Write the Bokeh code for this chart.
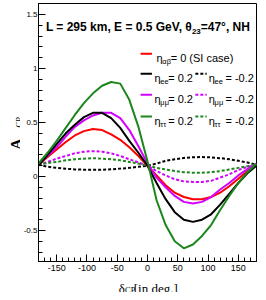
import math
from bokeh.plotting import figure
from bokeh.layouts import row, column
from bokeh.models import Range1d, FixedTicker, Label
from bokeh.core.properties import value
from bokeh.embed import file_html
from bokeh.resources import INLINE

# ---------------- data ----------------
delta_cp = [-180, -165, -150, -135, -120, -105, -90, -75, -60, -45, -30, -15,
            0, 15, 30, 45, 60, 75, 90, 105, 120, 135, 150, 165, 180]

acp_si = [0.11, 0.18, 0.25, 0.32, 0.38, 0.42, 0.44, 0.43, 0.39, 0.34, 0.27, 0.19,
          0.10, 0.01, -0.08, -0.15, -0.19, -0.21, -0.21, -0.19, -0.15, -0.09, -0.02, 0.05, 0.11]
acp_ee_p = [0.10, 0.20, 0.30, 0.40, 0.48, 0.55, 0.59, 0.59, 0.54, 0.45, 0.33, 0.22,
            0.10, -0.06, -0.21, -0.33, -0.40, -0.42, -0.40, -0.35, -0.26, -0.16, -0.06, 0.03, 0.10]
acp_ee_m = [0.11, 0.09, 0.08, 0.072, 0.066, 0.063, 0.062, 0.063, 0.067, 0.073, 0.08, 0.09,
            0.10, 0.12, 0.145, 0.16, 0.172, 0.178, 0.18, 0.177, 0.17, 0.16, 0.145, 0.13, 0.11]
acp_mm_p = [0.115, 0.19, 0.27, 0.37, 0.46, 0.52, 0.565, 0.59, 0.59, 0.54, 0.43, 0.28,
            0.12, -0.01, -0.10, -0.18, -0.235, -0.25, -0.235, -0.19, -0.12, -0.06, 0.01, 0.07, 0.115]
acp_mm_m = [0.11, 0.135, 0.165, 0.19, 0.215, 0.23, 0.235, 0.23, 0.215, 0.19, 0.16, 0.13,
            0.10, 0.05, 0.01, -0.025, -0.045, -0.05, -0.05, -0.04, -0.01, 0.02, 0.06, 0.09, 0.11]
acp_tt_p = [0.12, 0.22, 0.33, 0.45, 0.57, 0.68, 0.77, 0.84, 0.875, 0.86, 0.71, 0.46,
            0.14, -0.22, -0.45, -0.60, -0.665, -0.63, -0.55, -0.45, -0.31, -0.18, -0.06, 0.04, 0.12]
acp_tt_m = [0.11, 0.125, 0.135, 0.15, 0.16, 0.165, 0.17, 0.165, 0.16, 0.15, 0.135, 0.12,
            0.10, 0.08, 0.065, 0.05, 0.04, 0.035, 0.035, 0.04, 0.05, 0.065, 0.08, 0.095, 0.11]

x_ticks = [-150, -100, -50, 0, 50, 100, 150]
x_tick_labels = ["-150", "-100", "-50", "0", "50", "100", "150"]
y_ticks = [-0.5, 0, 0.5, 1, 1.5]
y_tick_labels = ["-0.5", "0", "0.5", "1", "1.5"]

# ---------------- layout (canvas pixels) ----------------
X0, X1 = -180, 180
Y0, Y1 = -0.787, 1.602
YW = 20                 # width of the left strip holding the y title
MW, MH = 238, 275       # main figure
XH = 17                 # height of the strip holding the x title
ML, MR, MT, MB = 15, 2, 3, 14
FL, FR = YW + ML, YW + MW - MR        # frame left/right in canvas px
FT, FB = MT, MH - MB                  # frame top/bottom in canvas px

def DX(cx):  # canvas px -> data x
    return X0 + (cx - FL) / (FR - FL) * (X1 - X0)

def DY(cy):  # canvas px -> data y
    return Y1 - (cy - FT) / (FB - FT) * (Y1 - Y0)

SANS = "Liberation Sans"
SERIF = "Liberation Serif"

p = figure(width=MW, height=MH, x_range=Range1d(X0, X1), y_range=Range1d(Y0, Y1),
           output_backend="svg", toolbar_location=None,
           min_border_left=ML, min_border_right=MR, min_border_top=MT, min_border_bottom=MB)
p.xgrid.visible = False
p.ygrid.visible = False
p.outline_line_color = "black"
p.outline_line_alpha = 1
p.outline_line_width = 1

p.xaxis.ticker = FixedTicker(ticks=x_ticks, minor_ticks=list(range(-180, 181, 10)))
p.yaxis.ticker = FixedTicker(ticks=y_ticks, minor_ticks=[round(-0.7 + 0.1 * i, 1) for i in range(24)])
p.xaxis.major_label_overrides = dict(zip(x_ticks, x_tick_labels))
p.yaxis.major_label_overrides = dict(zip(y_ticks, y_tick_labels))
for ax in (p.xaxis[0], p.yaxis[0]):
    ax.major_tick_in = 7
    ax.major_tick_out = 0
    ax.minor_tick_in = 4
    ax.minor_tick_out = 0
    ax.axis_line_color = "black"
    ax.major_tick_line_color = "black"
    ax.minor_tick_line_color = "black"
    ax.major_label_text_font = SANS
    ax.major_label_text_color = "black"
p.xaxis.major_label_text_font_size = "9px"
p.yaxis.major_label_text_font_size = "8px"
p.xaxis.major_label_standoff = 3
p.yaxis.major_label_standoff = 1

RED, BLK, MAG, GRN = "#ff0000", "#000000", "#d400ff", "#1b861b"
DOT = "3 2"

p.line(delta_cp, acp_ee_m, color=BLK, line_width=2, line_dash=DOT)
p.line(delta_cp, acp_mm_m, color=MAG, line_width=2, line_dash=DOT)
p.line(delta_cp, acp_tt_m, color=GRN, line_width=2, line_dash=DOT)
p.line(delta_cp, acp_si, color=RED, line_width=2)
p.line(delta_cp, acp_mm_p, color=MAG, line_width=2)
p.line(delta_cp, acp_ee_p, color=BLK, line_width=2)
p.line(delta_cp, acp_tt_p, color=GRN, line_width=2)

def lab(cx, cy, text, size, font=SANS, style="normal"):
    p.add_layout(Label(x=DX(cx), y=DY(cy), text=text, text_font=font, text_font_size=size,
                       text_font_style=style, text_align="left", text_baseline="alphabetic",
                       text_color="black"))

# title inside the frame
lab(42.5, 26.5, "L = 295 km, E = 0.5 GeV, θ", "12px", style="bold")
lab(190.5, 31, "23", "8px", style="bold")
lab(199.5, 26.5, "=47°, NH", "12px", style="bold")

# legend
rows = [53.3, 73.3, 94.3, 116]
colors = [RED, BLK, MAG, GRN]
subs = ["αβ", "ee", "μμ", "ττ"]
for i, (ry, c, s) in enumerate(zip(rows, colors, subs)):
    p.line([DX(138.5), DX(150)], [DY(ry), DY(ry)], color=c, line_width=2)
    if i == 0:
        lab(154.5, ry + 4.5, "η", "11px")
        lab(160.5, ry + 8, s, "7.5px")
        lab(169, ry + 4.5, "= 0 (SI case)", "11px")
    else:
        lab(152.5, ry + 4.5, "η", "11px")
        lab(158.5, ry + 8, s, "7.5px")
        lab(166.5, ry + 4.5, "= 0.2", "11px")
        p.line([DX(194), DX(205.5)], [DY(ry), DY(ry)], color=c, line_width=2, line_dash=DOT)
        lab(207.5, ry + 4.5, "η", "11px")
        lab(213.5, ry + 8, s, "7.5px")
        lab(224.5, ry + 4.5, "= -0.2", "11px")

def strip(w, h, x0, y0):
    # data x = canvas x, data y = -canvas y (ranges not inverted)
    f = figure(width=w, height=h, x_range=Range1d(x0, x0 + w), y_range=Range1d(-(y0 + h), -y0),
               output_backend="svg", toolbar_location=None, x_axis_type=None, y_axis_type=None,
               min_border=0, min_border_left=0, min_border_right=0, min_border_top=0,
               min_border_bottom=0)
    f.xgrid.visible = False
    f.ygrid.visible = False
    f.outline_line_color = None
    return f

def stext(f, cx, cy, text, size, style="normal", angle=0.0):
    f.text(x=[cx], y=[-cy], text=[text], angle=angle, text_font=value(SERIF),
           text_font_size=value(size), text_font_style=style, text_align="left",
           text_baseline="alphabetic", text_color="black")

# y-axis title strip (left)
ys = strip(YW, MH + XH, 0, 0)
stext(ys, 15, 149, "A", "15px", style="bold", angle=math.pi / 2)
stext(ys, 18, 127, "CP", "8.5px", angle=math.pi / 2)

# x-axis title strip (below)
xs = strip(MW, XH, YW, MH)
stext(xs, 107.5, 288, "δ", "13px")
stext(xs, 114.5, 289.8, "CP", "8.5px")
stext(xs, 124, 288, "[in deg.]", "13px")

layout = row(ys, column(p, xs, spacing=0), spacing=0)
open("out.html", "w").write(file_html(layout, INLINE))
